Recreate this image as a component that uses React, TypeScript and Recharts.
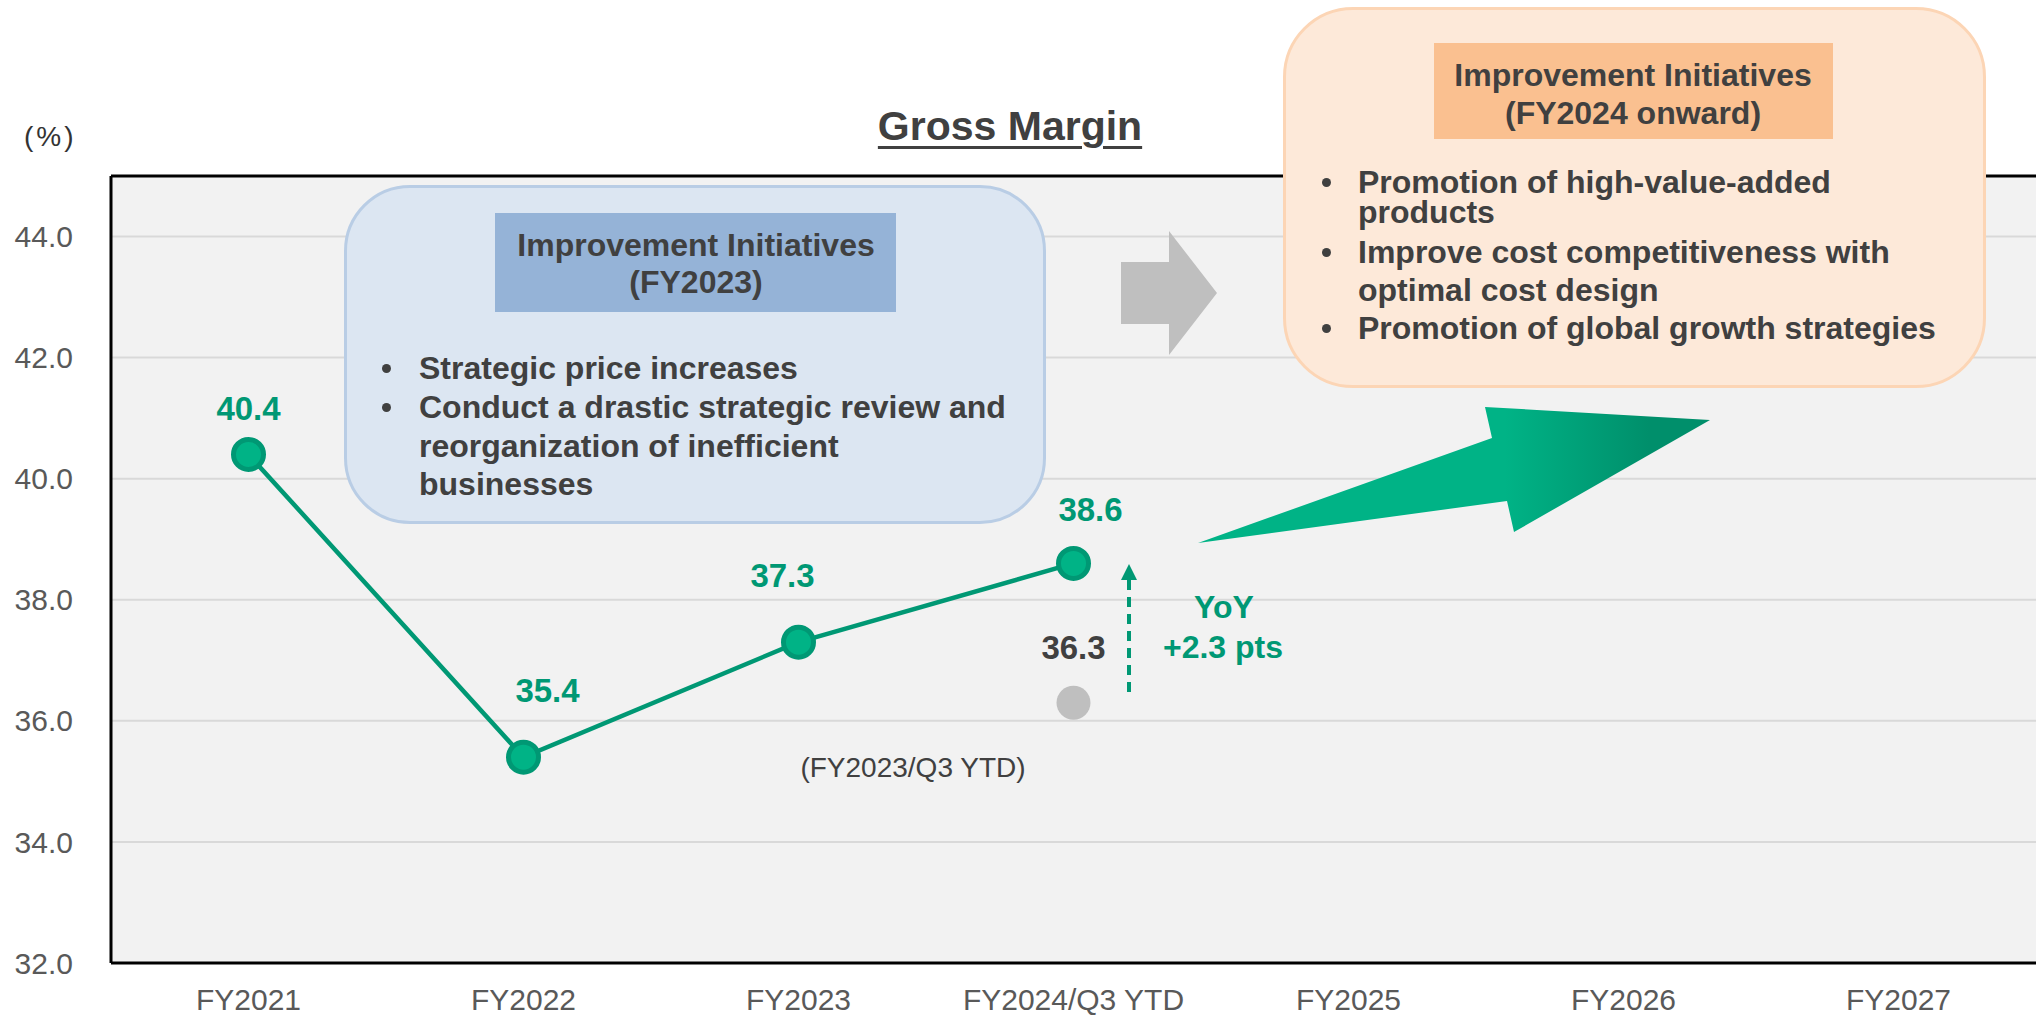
import React from 'react';
import { LineChart, Line, XAxis, YAxis, CartesianGrid, ReferenceLine } from 'recharts';

const categories = ['FY2021', 'FY2022', 'FY2023', 'FY2024/Q3 YTD', 'FY2025', 'FY2026', 'FY2027'];
const grossMargin = [40.4, 35.4, 37.3, 38.6, null, null, null];
const priorYtd = [null, null, null, 36.3, null, null, null];
const yTicks = [32, 34, 36, 38, 40, 42, 44];

const data = categories.map((name, i) => ({ name, margin: grossMargin[i], prior: priorYtd[i] }));

const FONT = '"Liberation Sans", Arial, sans-serif';
const GREEN = '#009874';
const DARK = '#404040';

// label offsets (dx, dy) per point, as placed on the slide
const labelShift = [
  [0, -46],
  [24, -67],
  [-16, -67],
  [17, -54],
];

const renderMarginLabel = (props: any) => {
  const { x, y, value, index } = props;
  if (value == null) return null;
  const [dx, dy] = labelShift[index] || [0, -50];
  return (
    <text x={x + dx} y={y + dy} dy="0.36em" textAnchor="middle" fill={GREEN}
      fontFamily={FONT} fontWeight="bold" fontSize={33}>
      {value.toFixed(1)}
    </text>
  );
};

const renderPriorLabel = (props: any) => {
  const { x, y, value } = props;
  if (value == null) return null;
  return (
    <text x={x} y={y - 56} dy="0.36em" textAnchor="middle" fill={DARK}
      fontFamily={FONT} fontWeight="bold" fontSize={33}>
      {value.toFixed(1)}
    </text>
  );
};

// one line of slide text, vertically centred on y
const Line1 = ({ x, y, text, size = 32, bold = true, color = DARK, anchor = 'left', spacing = 0 }: any) => (
  <div style={{
    position: 'absolute', top: y - 14, height: 28, lineHeight: '28px', left: x,
    transform: anchor === 'center' ? 'translateX(-50%)' : undefined, whiteSpace: 'nowrap',
    fontFamily: FONT, fontSize: size, fontWeight: bold ? 'bold' : 'normal', color, letterSpacing: spacing,
  }}>{text}</div>
);

const Bullet = ({ x, y }: any) => (
  <div style={{ position: 'absolute', left: x - 5, top: y - 5, width: 9, height: 9, borderRadius: 5, background: DARK }} />
);

const blueLines = [
  { text: 'Strategic price increases', y: 368, bullet: true },
  { text: 'Conduct a drastic strategic review and', y: 407, bullet: true },
  { text: 'reorganization of inefficient', y: 446, bullet: false },
  { text: 'businesses', y: 484, bullet: false },
];

const orangeLines = [
  { text: 'Promotion of high-value-added', y: 182, bullet: true },
  { text: 'products', y: 212, bullet: false },
  { text: 'Improve cost competitiveness with', y: 252, bullet: true },
  { text: 'optimal cost design', y: 290, bullet: false },
  { text: 'Promotion of global growth strategies', y: 328, bullet: true },
];

export default function App() {
  return (
    <div style={{ position: 'absolute', left: 0, top: 0, width: 2038, height: 1015, background: '#fff', overflow: 'hidden' }}>
      <LineChart width={2038} height={1015} data={data} margin={{ top: 176, right: 2, bottom: 0, left: 0 }}>
        <CartesianGrid vertical={false} stroke="#D9D9D9" strokeWidth={2} fill="#F2F2F2" />
        <XAxis dataKey="name" height={52} axisLine={false} tickLine={false} tickSize={0} tickMargin={26}
          padding={{ left: 137.5, right: 137.5 }} interval={0}
          tick={{ fill: '#595959', fontSize: 30, fontFamily: FONT }} />
        <YAxis width={111} domain={[32, 45]} ticks={yTicks} interval={0} allowDataOverflow
          tickFormatter={(v: number) => v.toFixed(1)} tickLine={false} tickSize={0} tickMargin={38}
          axisLine={{ stroke: '#000', strokeWidth: 3 }}
          tick={{ fill: '#595959', fontSize: 30, fontFamily: FONT }} />
        <ReferenceLine y={45} stroke="#000" strokeWidth={3} />
        <ReferenceLine y={32} stroke="#000" strokeWidth={3} />
        <Line dataKey="prior" stroke="none" isAnimationActive={false} activeDot={false}
          dot={{ r: 17, fill: '#BFBFBF', stroke: 'none' }} label={renderPriorLabel} />
        <Line dataKey="margin" stroke={GREEN} strokeWidth={4.5} isAnimationActive={false} activeDot={false}
          dot={{ r: 15, fill: '#00B386', stroke: GREEN, strokeWidth: 5 }} label={renderMarginLabel} />
      </LineChart>

      {/* arrows */}
      <svg width={2038} height={1015} style={{ position: 'absolute', left: 0, top: 0, pointerEvents: 'none' }}>
        <defs>
          <linearGradient id="bigArrow" x1="1198" y1="0" x2="1710" y2="0" gradientUnits="userSpaceOnUse">
            <stop offset="0.6" stopColor="#00B386" />
            <stop offset="0.88" stopColor="#008F6B" />
          </linearGradient>
        </defs>
        <polygon points="1198,543 1492,438 1485,407 1710,420 1514,532 1507,501" fill="url(#bigArrow)" />
        <polygon points="1121,262 1169,262 1169,231 1217,293 1169,355 1169,324 1121,324" fill="#BFBFBF" />
        <line x1={1129} y1={692} x2={1129} y2={580} stroke={GREEN} strokeWidth={4} strokeDasharray="10 7" />
        <polygon points="1129,564 1121,580 1137,580" fill={GREEN} />
      </svg>

      {/* title */}
      <div style={{
        position: 'absolute', left: 1010, transform: 'translateX(-50%)', top: 104, whiteSpace: 'nowrap',
        fontFamily: FONT, fontSize: 41, fontWeight: 'bold', color: DARK, lineHeight: '44px',
        textDecoration: 'underline', textDecorationThickness: 3, textUnderlineOffset: 6,
      }}>Gross Margin</div>
      <Line1 x={24} y={137} text="(%)" size={28} bold={false} color="#333" spacing={3} />

      {/* FY2023 box */}
      <div style={{
        position: 'absolute', left: 344, top: 185, width: 702, height: 339, boxSizing: 'border-box',
        background: '#DCE6F2', border: '3px solid #B9CDE5', borderRadius: 66,
      }} />
      <div style={{ position: 'absolute', left: 495, top: 213, width: 401, height: 99, background: '#95B3D7' }} />
      <Line1 x={696} y={245} text="Improvement Initiatives" anchor="center" />
      <Line1 x={696} y={282} text="(FY2023)" anchor="center" />
      {blueLines.map((l) => (
        <React.Fragment key={l.text}>
          {l.bullet && <Bullet x={387} y={l.y + 1} />}
          <Line1 x={419} y={l.y} text={l.text} />
        </React.Fragment>
      ))}

      {/* FY2024 onward box */}
      <div style={{
        position: 'absolute', left: 1283, top: 7, width: 703, height: 381, boxSizing: 'border-box',
        background: '#FDE9D9', border: '3px solid #FCD5B5', borderRadius: 70,
      }} />
      <div style={{ position: 'absolute', left: 1434, top: 43, width: 399, height: 96, background: '#FAC090' }} />
      <Line1 x={1633} y={75} text="Improvement Initiatives" anchor="center" />
      <Line1 x={1633} y={113} text="(FY2024 onward)" anchor="center" />
      {orangeLines.map((l) => (
        <React.Fragment key={l.text}>
          {l.bullet && <Bullet x={1327} y={l.y + 1} />}
          <Line1 x={1358} y={l.y} text={l.text} />
        </React.Fragment>
      ))}

      {/* YoY note */}
      <Line1 x={1224} y={607} text="YoY" anchor="center" color={GREEN} />
      <Line1 x={1223} y={647} text="+2.3 pts" anchor="center" color={GREEN} />
      <Line1 x={913} y={768} text="(FY2023/Q3 YTD)" anchor="center" size={28} bold={false} />
    </div>
  );
}
